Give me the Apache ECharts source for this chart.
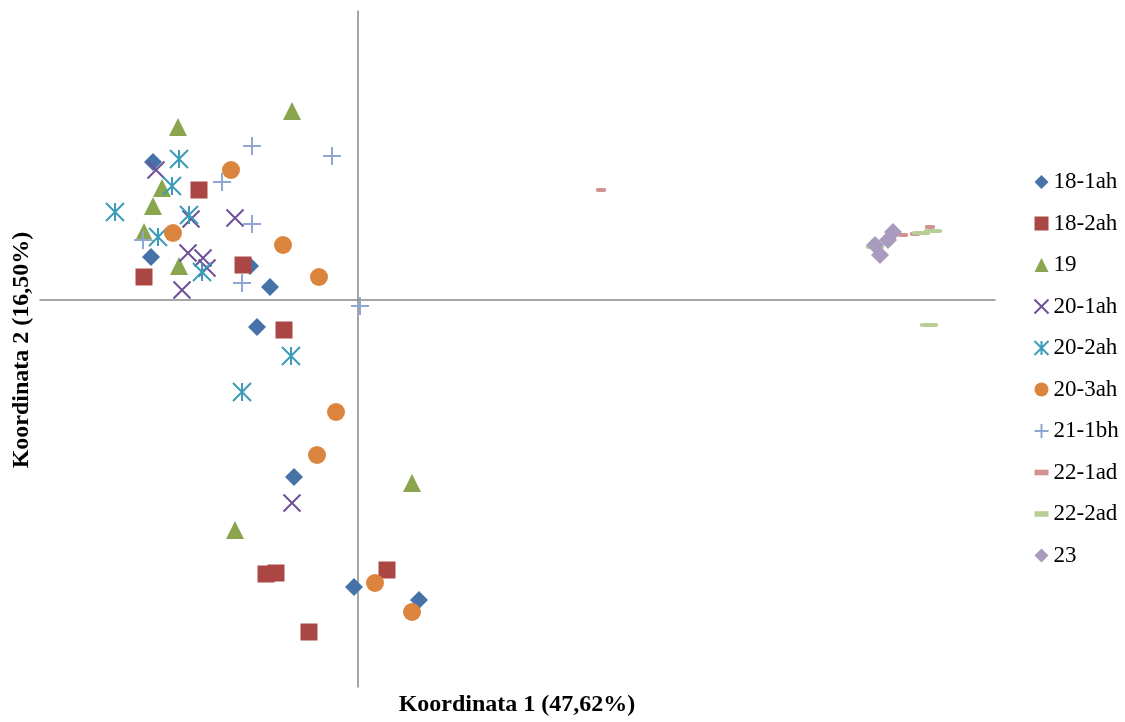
<!DOCTYPE html>
<html>
<head>
<meta charset="utf-8">
<script src="https://cdn.jsdelivr.net/npm/echarts@6/dist/echarts.min.js"></script>
<style>html,body{margin:0;padding:0;background:#fff}#c{width:1125px;height:722px}</style>
</head>
<body>
<div id="c"></div>
<script>
var seriesNames = ['18-1ah','18-2ah','19','20-1ah','20-2ah','20-3ah','21-1bh','22-1ad','22-2ad','23'];
var s18_1ah = [[-2.05,1.38],[-2.07,0.43],[-1.08,0.34],[-0.88,0.13],[-1.01,-0.27],[-0.64,-1.77],[-0.04,-2.87],[0.61,-3.00]];
var s18_2ah = [[-1.59,1.10],[-2.14,0.23],[-1.15,0.35],[-0.74,-0.30],[-0.92,-2.74],[-0.82,-2.73],[0.29,-2.70],[-0.49,-3.32]];
var s19 = [[-0.66,1.89],[-1.80,1.73],[-1.96,1.12],[-2.05,0.94],[-2.14,0.68],[-1.79,0.34],[0.54,-1.83],[-1.23,-2.30]];
var s20_1ah = [[-2.02,1.30],[-1.67,0.81],[-1.23,0.82],[-1.70,0.47],[-1.55,0.42],[-1.51,0.32],[-1.76,0.10],[-0.66,-2.03]];
var s20_2ah = [[-1.79,1.41],[-1.86,1.14],[-2.43,0.88],[-1.69,0.85],[-2.00,0.63],[-1.56,0.28],[-0.67,-0.56],[-1.16,-0.92]];
var s20_3ah = [[-1.27,1.30],[-1.85,0.67],[-0.75,0.55],[-0.39,0.23],[-0.22,-1.12],[-0.41,-1.55],[0.17,-2.83],[0.54,-3.12]];
var s21_1bh = [[-1.06,1.54],[-0.26,1.44],[-1.36,1.18],[-1.06,0.76],[-2.15,0.60],[-1.16,0.17],[0.02,-0.06]];
var s22_1ad = [[2.43,1.10],[5.45,0.65],[5.57,0.66],[5.72,0.73]];
var s22_2ad = [[5.17,0.53],[5.63,0.67],[5.75,0.69],[5.71,-0.25]];
var s23 = [[5.17,0.55],[5.30,0.60],[5.35,0.68],[5.22,0.45]];
var xTitle = 'Koordinata 1 (47,62%)';
var yTitle = 'Koordinata 2 (16,50%)';

var colors = ['#4572A7','#AA4643','#89A54E','#6F4F98','#3A9CB8','#DB843D','#8FA6D0','#D19392','#B9CD96','#A99BBD'];
var X_PATH = 'path://M0,0L10,10M10,0L0,10';
var STAR_PATH = 'path://M5,0L5,10M0,0L10,10M10,0L0,10';
var PLUS_PATH = 'path://M5,0L5,10M0,5L10,5';
var DASH_PATH = 'path://M0,0L10,0L10,4L0,4Z';

var datasets = [s18_1ah,s18_2ah,s19,s20_1ah,s20_2ah,s20_3ah,s21_1bh,s22_1ad,s22_2ad,s23];
var symbols = ['diamond','rect','triangle',X_PATH,STAR_PATH,'circle',PLUS_PATH,'roundRect','roundRect','diamond'];
var sizes = [18,17,18,17,18,18,18,[10,4],[18,4],18];
var lineOnly = [false,false,false,true,true,false,true,false,false,false];

var series = datasets.map(function(d,i){
  var st = lineOnly[i] ? {color:'none', borderColor:colors[i], borderWidth:2, opacity:1} : {color:colors[i], opacity:1};
  return {
    name: seriesNames[i], type:'scatter', data:d, symbol:symbols[i], symbolSize:sizes[i],
    itemStyle: st, emphasis:{disabled:true}, animation:false
  };
});

var legendData = seriesNames.map(function(n,i){
  var it = {name:n};
  if (lineOnly[i]) { it.itemStyle = {color:'none', borderColor:colors[i], borderWidth:2, opacity:1}; }
  else { it.itemStyle = {color:colors[i], opacity:1}; }
  if (i===7 || i===8) { it.icon = DASH_PATH; }
  return it;
});

var chart = echarts.init(document.getElementById('c'));
chart.setOption({
  backgroundColor:'#fff',
  animation:false,
  color: colors,
  grid:{left:40, right:130, top:11, bottom:35, containLabel:false},
  xAxis:{type:'value', min:-3.18, max:6.37, axisLine:{onZero:true, lineStyle:{color:'#888', width:1.5}},
    axisTick:{show:false}, axisLabel:{show:false}, splitLine:{show:false}},
  yAxis:{type:'value', min:-3.87, max:2.89, axisLine:{show:true, onZero:true, lineStyle:{color:'#888', width:1.5}},
    axisTick:{show:false}, axisLabel:{show:false}, splitLine:{show:false}},
  legend:{orient:'vertical', left:1032, top:170.5, padding:0, itemWidth:14, itemHeight:14, itemGap:18.5,
    textStyle:{fontFamily:'Liberation Serif', fontSize:23, color:'#000', lineHeight:23},
    data: legendData, selectedMode:false},
  graphic:[
    {type:'text', x:517, y:705, style:{text:xTitle, x:0, y:0, align:'center', verticalAlign:'middle',
      font:'bold 24px "Liberation Serif"', fill:'#000'}},
    {type:'text', x:22, y:350, rotation:Math.PI/2, style:{text:yTitle, x:0, y:0, align:'center', verticalAlign:'middle',
      font:'bold 24px "Liberation Serif"', fill:'#000'}}
  ],
  series: series
});
</script>
</body>
</html>
